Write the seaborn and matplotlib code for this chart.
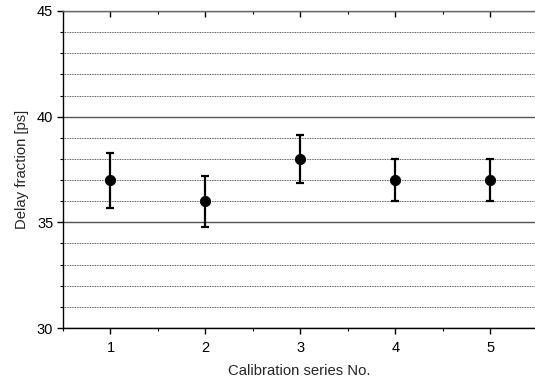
import matplotlib
matplotlib.use("Agg")
import matplotlib.pyplot as plt
from matplotlib.ticker import MultipleLocator
import seaborn as sns
import pandas as pd

series = [1, 2, 3, 4, 5]
delay = [37.0, 36.0, 38.0, 37.0, 37.0]
err = [1.3, 1.2, 1.15, 1.0, 1.0]

df = pd.DataFrame({"series": series, "delay": delay, "err": err})

sns.set_theme(style="white")
plt.rcParams['font.family'] = ['Liberation Sans', 'DejaVu Sans']

fig = plt.figure(figsize=(5.35, 3.83), dpi=100)
ax = fig.add_axes([63 / 535, 1 - 328 / 383, (535 - 63) / 535, (328 - 11) / 383])

ax.errorbar(df["series"], df["delay"], yerr=df["err"], fmt="none",
            ecolor="black", elinewidth=1.6, capsize=3, capthick=1.6, zorder=3)
sns.scatterplot(data=df, x="series", y="delay", ax=ax, color="black",
                s=55, edgecolor="black", zorder=4, legend=False)

ax.set_xlim(0.5, 5.47)
ax.set_ylim(30, 45)
ax.xaxis.set_major_locator(MultipleLocator(1))
ax.xaxis.set_minor_locator(MultipleLocator(0.5))
ax.yaxis.set_major_locator(MultipleLocator(5))
ax.yaxis.set_minor_locator(MultipleLocator(1))

ax.yaxis.grid(True, which="major", color="#555555", linestyle="-", linewidth=1.0)
ax.yaxis.grid(True, which="minor", color="#222222", linestyle=(0, (1, 1)), linewidth=0.6)
ax.xaxis.grid(False)
ax.set_axisbelow(True)

for s in ["left", "bottom"]:
    ax.spines[s].set_color("black")
    ax.spines[s].set_linewidth(1.0)
ax.spines["top"].set_color("#666666")
ax.spines["top"].set_linewidth(1.0)
ax.spines["right"].set_visible(False)

ax.tick_params(axis="both", which="major", direction="out", length=4, width=1,
               colors="black", labelsize=10.5, pad=3)
ax.tick_params(axis="both", which="minor", direction="out", length=2.5, width=0.8,
               colors="black")
ax.tick_params(axis="x", which="both", bottom=True, top=True)
ax.tick_params(axis="y", which="both", left=True, right=False)
ax.tick_params(axis="x", which="major", pad=5)
# top ticks go inward
for t in ax.xaxis.get_major_ticks() + ax.xaxis.get_minor_ticks():
    t.tick2line.set_marker(3)  # TICKDOWN

ax.set_xlabel("Calibration series No.", fontsize=10.7, labelpad=7)
ax.set_ylabel("Delay fraction [ps]", fontsize=10.7, labelpad=6)

fig.savefig("out.png", dpi=100)
